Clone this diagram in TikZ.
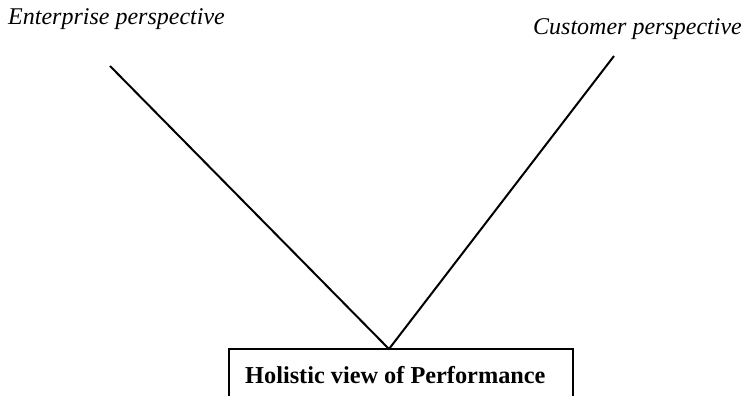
\documentclass[tikz,border=0pt]{standalone}
\usepackage{fontspec}
\setmainfont{Liberation Serif}
\begin{document}
\begin{tikzpicture}[x=1pt,y=-1pt,
  persp/.style={font=\itshape\fontsize{24}{28}\selectfont, inner sep=0pt, anchor=base west},
  leg/.style={line width=2pt},
  viewbox/.style={draw, line width=1.4pt, minimum width=344pt, minimum height=52pt, inner sep=0pt},
  viewtext/.style={font=\bfseries\fontsize{24.3}{28}\selectfont, inner sep=0pt, anchor=base west}]
  \useasboundingbox (0,0) rectangle (745,396);
  \clip (0,0) rectangle (745,396);
  % the two perspectives
  \node[persp] (ent) at (8,25) {Enterprise perspective};
  \node[persp] (cus) at (533,35) {Customer perspective};
  % the holistic view, open at the bottom edge
  \node[viewbox] (view) at (401,375) {};
  \node[viewtext] (viewlabel) at (245,383) {Holistic view of Performance};
  \coordinate (entend) at (110,66);
  \coordinate (cusend) at (614,56);
  \coordinate (apex) at (389,349);
  \draw[leg] (entend) -- (apex);
  \draw[leg] (cusend) -- (apex);
\end{tikzpicture}
\end{document}
